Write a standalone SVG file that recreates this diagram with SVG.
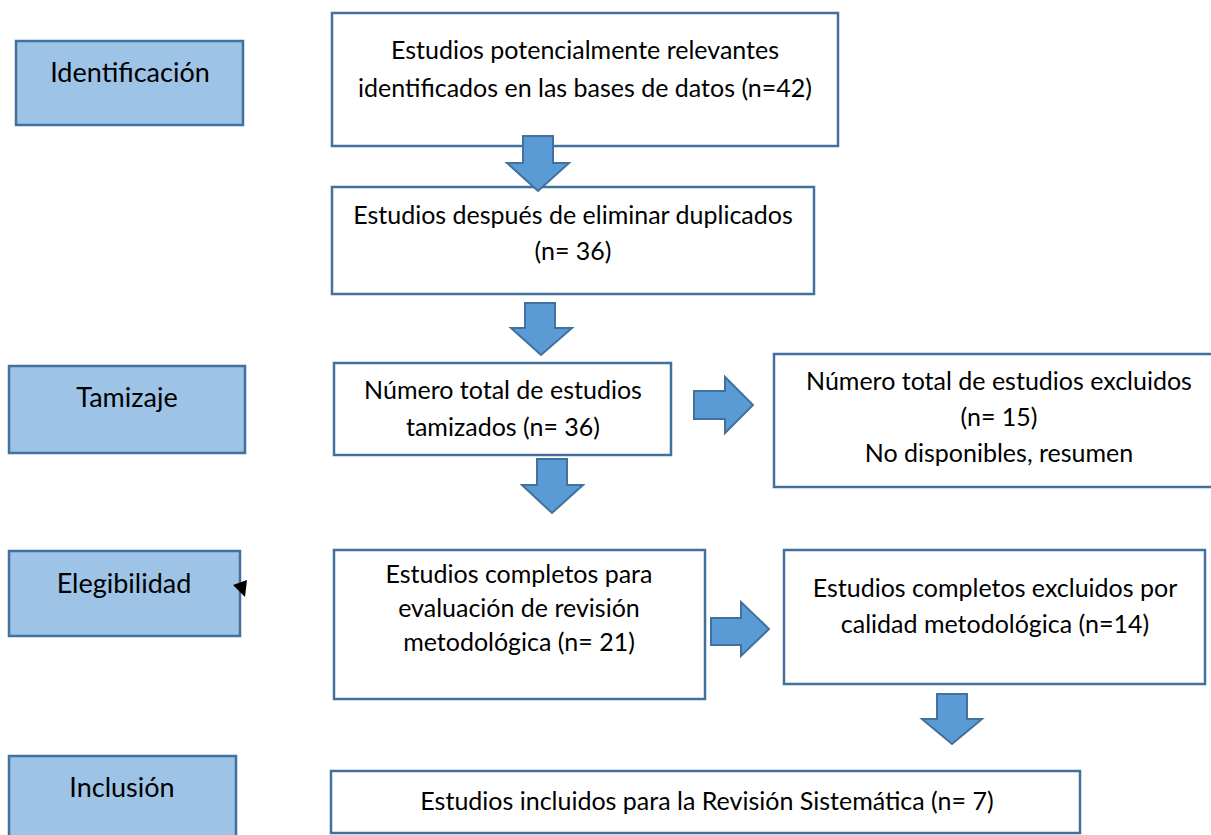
<svg xmlns="http://www.w3.org/2000/svg" width="1211" height="835" viewBox="0 0 1211 835">
<style>
.stage{fill:#9DC3E6;stroke:#41719C;stroke-width:2.5}
.box{fill:#FFFFFF;stroke:#41719C;stroke-width:2.5}
.t{font-family:Lato,"Open Sans","Liberation Sans",sans-serif;font-size:25px;fill:#000;text-anchor:middle}
.s{font-size:27px}
.arr{fill:#5B9BD5;stroke:#41719C;stroke-width:2;stroke-linejoin:miter}
</style>
<rect width="1211" height="835" fill="#FFFFFF"/>
<g id="identificacion"><rect class="stage" x="16" y="41" width="227" height="84"/><text class="t s" x="130" y="82">Identificación</text></g>
<g id="tamizaje"><rect class="stage" x="9" y="366" width="236" height="87"/><text class="t s" x="127" y="407">Tamizaje</text></g>
<g id="elegibilidad"><rect class="stage" x="9" y="551" width="231" height="85"/><text class="t s" x="124" y="593">Elegibilidad</text></g>
<g id="inclusion"><rect class="stage" x="9" y="756" width="227" height="82"/><text class="t s" x="122" y="797">Inclusión</text></g>
<g id="n1"><rect class="box" x="332" y="13" width="506" height="133"/><text class="t" x="585" y="59">Estudios potencialmente relevantes</text><text class="t" x="585" y="97">identificados en las bases de datos (n=42)</text></g>
<g id="n2"><rect class="box" x="332" y="187" width="482" height="107"/><text class="t" x="573" y="224">Estudios después de eliminar duplicados</text><text class="t" x="573" y="260">(n= 36)</text></g>
<g id="n3"><rect class="box" x="334" y="363" width="337" height="92"/><text class="t" x="503" y="399">Número total de estudios</text><text class="t" x="503" y="436">tamizados (n= 36)</text></g>
<g id="n4"><rect class="box" x="774" y="354" width="450" height="133"/><text class="t" x="999" y="390">Número total de estudios excluidos</text><text class="t" x="999" y="426">(n= 15)</text><text class="t" x="999" y="462">No disponibles, resumen</text></g>
<g id="n5"><rect class="box" x="334" y="550" width="371" height="149"/><text class="t" x="519" y="583">Estudios completos para</text><text class="t" x="519" y="617">evaluación de revisión</text><text class="t" x="519" y="651">metodológica (n= 21)</text></g>
<g id="n6"><rect class="box" x="784" y="550" width="421" height="134"/><text class="t" x="995" y="597">Estudios completos excluidos por</text><text class="t" x="995" y="633">calidad metodológica (n=14)</text></g>
<g id="n7"><rect class="box" x="331" y="771" width="749" height="62"/><text class="t" x="707" y="810">Estudios incluidos para la Revisión Sistemática (n= 7)</text></g>
<g id="connectors">
<polygon class="arr" points="523,136 553,136 553,163 569,163 538,191 507,163 523,163"/>
<polygon class="arr" points="525,303 555,303 555,328 572,328 541,355 511,328 525,328"/>
<polygon class="arr" points="537,459 567,459 567,485 583,485 552,513 522,485 537,485"/>
<polygon class="arr" points="937,694 967,694 967,719 982,719 952,744 922,719 937,719"/>
<polygon class="arr" points="694,391 725,391 725,377 753,405 725,433 725,419 694,419"/>
<polygon class="arr" points="711,618 741,618 741,602 769,629 741,656 741,645 711,645"/>
<polygon points="233,585 247,580 245,597" fill="#000"/>
</g>
</svg>
